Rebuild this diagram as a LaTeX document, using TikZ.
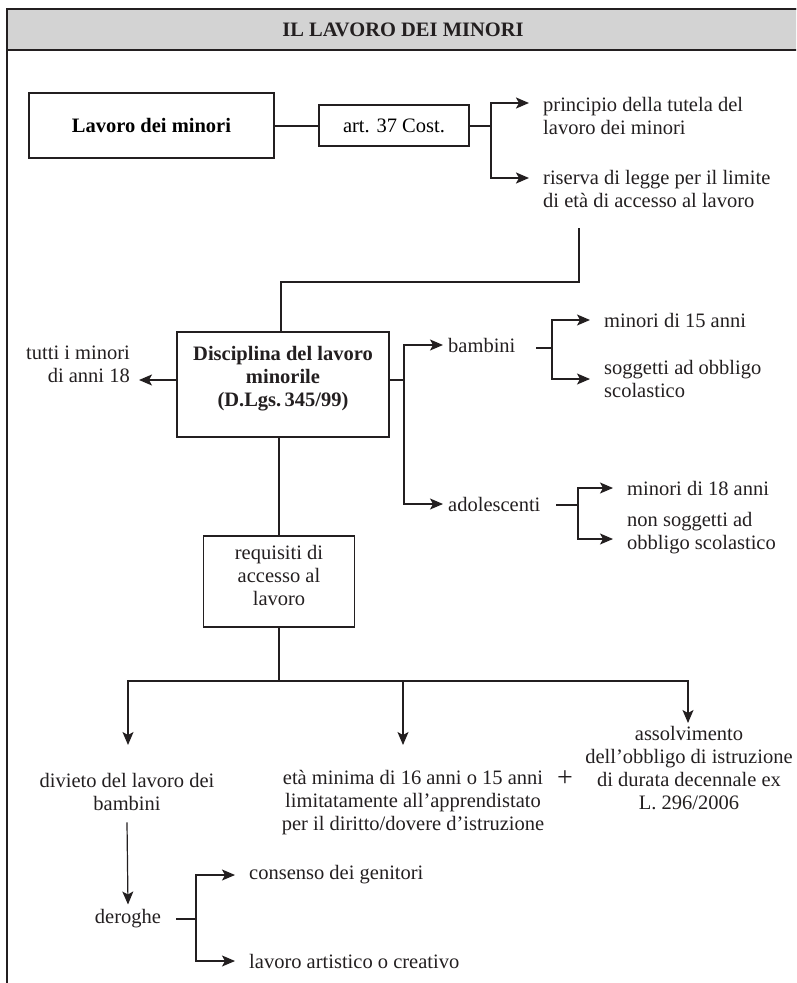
\documentclass[tikz,border=0pt]{standalone}
\usepackage{fontspec}
\setmainfont{Liberation Serif}
\usetikzlibrary{arrows.meta}

\definecolor{inkdark}{HTML}{231F20}
\definecolor{bandgray}{HTML}{D3D3D3}
\newcommand{\mapfont}{\fontsize{20.5}{23}\selectfont}

\tikzset{
    box/.style={draw=inkdark, line width=1.2pt, fill=none, inner sep=0pt},
    txt/.style={text=inkdark, inner sep=0pt, align=center},
    leaf/.style={text=inkdark, inner xsep=14pt, inner ysep=0pt,
        anchor=west, align=left},
    kid/.style={text=inkdark, inner xsep=5pt, inner ysep=0pt, anchor=west},
    link/.style={draw=inkdark, line width=1.2pt},
    trunk/.style={draw=inkdark, line width=2pt},
    tip/.style={-{Stealth[length=13pt, width=11pt, inset=3pt]}},
    arr/.style={link, tip},
    bigarr/.style={trunk, tip}
}

\begin{document}
\begin{tikzpicture}[x=1pt, y=-1pt, font=\mapfont]

    \useasboundingbox (0,0) rectangle (796,983);
    \clip (0,0) rectangle (796,983);

    % frame and title band
    \draw[inkdark, line width=1.3pt] (7,9) rectangle (830,1010);
    \filldraw[fill=bandgray, draw=inkdark, line width=1.3pt]
        (7,9) rectangle (830,50);
    \node[txt, font=\mapfont\bfseries] (title) at (403,30)
        {IL LAVORO DEI MINORI};

    % constitution
    \node[box,
        minimum width=245,
        minimum height=65,
        font=\mapfont\bfseries
    ] (lav) at (151.5,125.5) {Lavoro dei minori};
    \node[box,
        minimum width=150,
        minimum height=41
    ] (art) at (394,125.5) {art. 37 Cost.};
    \coordinate (fork1) at (491,125.5);
    \draw[trunk] (lav) -- (art);
    \draw[trunk] (art) -- (fork1);

    \node[leaf] (tut) at (529,115.5)
        {principio della tutela del\\lavoro dei minori};
    \node[leaf] (ris) at (529,188.5)
        {riserva di legge per il limite\\di età di accesso al lavoro};
    \draw[bigarr] (fork1) |- ([yshift=12.5pt]tut.west);
    \draw[bigarr] (fork1) |- ([yshift=10.5pt]ris.west);

    % decree
    \coordinate (top) at (579,228);
    \coordinate (knee) at (579,282);
    \node[box,
        minimum width=212,
        minimum height=105
    ] (dis) at (283,384.5) {};
    \node[txt, font=\mapfont\bfseries] (distxt) at (283,379)
        {Disciplina del lavoro\\minorile\\(D.Lgs.\,345/99)};
    \draw[link] (top) -- (knee) -| ([xshift=-2pt]dis.north);

    \node[txt, anchor=east, align=right, inner xsep=9pt] (tutti) at (139,364)
        {tutti i minori\\di anni 18};
    \draw[arr] ([yshift=4.5pt]dis.west) -- ([yshift=-16pt]tutti.east);

    \coordinate (fork2) at (404,380);
    \draw[link] ([yshift=4.5pt]dis.east) -- (fork2);
    \node[kid] (bam) at (443,345) {bambini};
    \node[kid] (ado) at (443,504) {adolescenti};
    \draw[arr] (fork2) |- (bam.west);
    \draw[arr] (fork2) |- (ado.west);

    % bambini
    \coordinate (stub3) at (536,348);
    \coordinate (fork3) at (552,348);
    \draw[link] (stub3) -- (fork3);
    \node[leaf] (m15) at (590,320) {minori di 15 anni};
    \node[leaf] (sog) at (590,379) {soggetti ad obbligo\\scolastico};
    \draw[arr] (fork3) |- (m15.west);
    \draw[arr] (fork3) |- (sog.west);

    % adolescenti
    \coordinate (stub4) at (556,505);
    \coordinate (fork4) at (578,505);
    \draw[link] (stub4) -- (fork4);
    \node[leaf] (m18) at (613,488) {minori di 18 anni};
    \node[leaf] (nos) at (613,533) {non soggetti ad\\obbligo scolastico};
    \draw[arr] (fork4) |- (m18.west);
    \draw[arr] (fork4) |- ([yshift=-6pt]nos.west);

    % requisiti
    \node[box,
        minimum width=151,
        minimum height=91
    ] (req) at (279,581.5) {};
    \node[txt] (reqtxt) at (279,575) {requisiti di\\accesso al\\lavoro};
    \draw[link] (req.north |- dis.south) -- (req.north);

    \coordinate (hub) at (279,681);
    \coordinate (tipdiv) at (128,745);
    \coordinate (tipeta) at (403,745);
    \coordinate (tipass) at (688,723);
    \draw[link] (req.south) -- (hub);
    \draw[arr] (hub) -| (tipdiv);
    \draw[arr] (hub) -| (tipeta);
    \draw[arr] (hub) -| (tipass);

    \node[txt] (div) at (127,791.5) {divieto del lavoro dei\\bambini};
    \node[txt] (eta) at (413,803)
        {età minima di 16 anni o 15 anni\\limitatamente all'apprendistato\\per il diritto/dovere d'istruzione};
    \node[txt, font=\fontsize{28}{28}\selectfont] (plus) at (565,779) {+};
    \node[txt] (ass) at (689,768.5)
        {assolvimento\\dell'obbligo di istruzione\\di durata decennale ex\\L. 296/2006};

    % deroghe
    \node[txt] (dero) at (128,919) {deroghe};
    \draw[arr] ([yshift=-12pt]div.south) -- ([yshift=5pt]dero.north);
    \coordinate (fork5) at (196,919);
    \draw[link] ([xshift=15pt]dero.east) -- (fork5);
    \node[leaf] (gen) at (235,875) {consenso dei genitori};
    \node[leaf] (cre) at (235,961) {lavoro artistico o creativo};
    \draw[arr] (fork5) |- (gen.west);
    \draw[arr] (fork5) |- (cre.west);

\end{tikzpicture}
\end{document}
